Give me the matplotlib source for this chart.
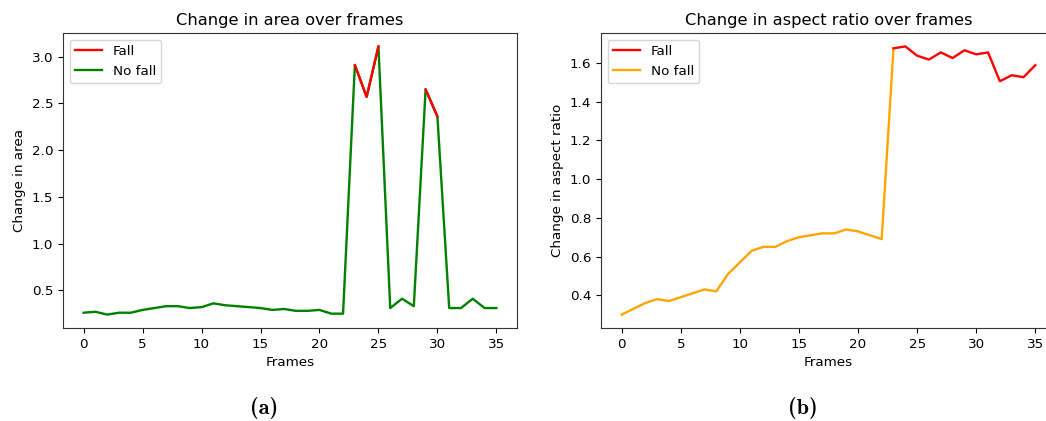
import matplotlib.pyplot as plt
import numpy as np

frames = list(range(36))

# change in area per frame
area = [0.26, 0.27, 0.24, 0.26, 0.26, 0.29, 0.31, 0.33, 0.33, 0.31,
        0.32, 0.36, 0.34, 0.33, 0.32, 0.31, 0.29, 0.30, 0.28, 0.28,
        0.29, 0.25, 0.25, 2.91, 2.57, 3.11, 0.31, 0.41, 0.33, 2.65,
        2.36, 0.31, 0.31, 0.41, 0.31, 0.31]
# fall segments (frame ranges) drawn in red on top
area_fall_segments = [(23, 25), (29, 30)]

# change in aspect ratio per frame
aspect = [0.30, 0.33, 0.36, 0.38, 0.37, 0.39, 0.41, 0.43, 0.42, 0.51,
          0.57, 0.63, 0.65, 0.65, 0.68, 0.70, 0.71, 0.72, 0.72, 0.74,
          0.73, 0.71, 0.69, 1.676, 1.686, 1.638, 1.618, 1.655, 1.626, 1.666,
          1.645, 1.655, 1.506, 1.537, 1.527, 1.589]
aspect_fall_start = 23

fig = plt.figure(figsize=(10.46, 4.21), dpi=100)
fs = 9.7
lw = 1.7

# left: area
ax1 = fig.add_axes([63/1046, 93/421, 454/1046, 295/421])
ax1.plot(frames, area, color='green', lw=lw)
for a, b in area_fall_segments:
    ax1.plot(frames[a:b+1], area[a:b+1], color='red', lw=lw)
h_fall, = ax1.plot([], [], color='red', lw=lw, label='Fall')
h_nofall, = ax1.plot([], [], color='green', lw=lw, label='No fall')
ax1.legend(handles=[h_fall, h_nofall], loc='upper left', fontsize=fs)
ax1.set_title('Change in area over frames', fontsize=11.7)
ax1.set_xlabel('Frames', fontsize=fs)
ax1.set_ylabel('Change in area', fontsize=fs)
ax1.set_xticks([0, 5, 10, 15, 20, 25, 30, 35])
ax1.set_yticks([0.5, 1.0, 1.5, 2.0, 2.5, 3.0])
ax1.tick_params(labelsize=fs)

# right: aspect ratio (axes runs past the right edge, like the source)
ax2 = fig.add_axes([601/1046, 93/421, 455/1046, 295/421])
ax2.plot(frames[:aspect_fall_start+1], aspect[:aspect_fall_start+1], color='orange', lw=lw)
ax2.plot(frames[aspect_fall_start:], aspect[aspect_fall_start:], color='red', lw=lw)
h_fall2, = ax2.plot([], [], color='red', lw=lw, label='Fall')
h_nofall2, = ax2.plot([], [], color='orange', lw=lw, label='No fall')
ax2.legend(handles=[h_fall2, h_nofall2], loc='upper left', fontsize=fs)
ax2.set_title('Change in aspect ratio over frames', fontsize=11.7)
ax2.set_xlabel('Frames', fontsize=fs)
ax2.set_ylabel('Change in aspect ratio', fontsize=fs)
ax2.set_xticks([0, 5, 10, 15, 20, 25, 30, 35])
ax2.set_yticks([0.4, 0.6, 0.8, 1.0, 1.2, 1.4, 1.6])
ax2.tick_params(labelsize=fs)

for ax in (ax1, ax2):
    for s in ax.spines.values():
        s.set_color('#333333')

fig.text(264/1046, 1 - 408/421, '(a)', fontsize=16, family='cmb10', ha='center', va='center')
fig.text(803/1046, 1 - 408/421, '(b)', fontsize=16, family='cmb10', ha='center', va='center')

fig.savefig('out.png', dpi=100)
